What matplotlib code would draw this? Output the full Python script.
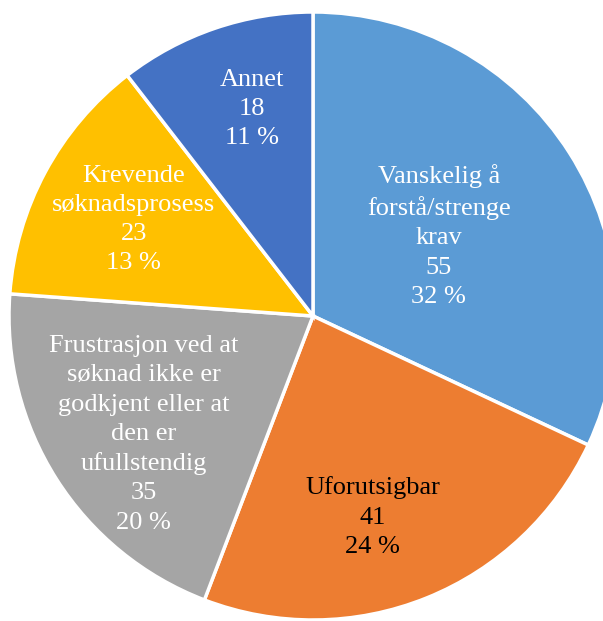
import numpy as np
import matplotlib.pyplot as plt

categories = ['Vanskelig å\nforstå/strenge\nkrav', 'Uforutsigbar',
              'Frustrasjon ved at\nsøknad ikke er\ngodkjent eller at\nden er\nufullstendig',
              'Krevende\nsøknadsprosess', 'Annet']
counts = [55, 41, 35, 23, 18]
percents = [32, 24, 20, 13, 11]
colors = ['#5B9BD5', '#ED7D31', '#A5A5A5', '#FFC000', '#4472C4']
text_colors = ['white', 'black', 'white', 'white', 'white']

# label placement (radius fraction, angle tweak in degrees)
label_r = [0.49, 0.69, 0.68, 0.67, 0.71]
label_da = [0, -5.5, 2.5, 0, -2.5]

plt.rcParams['font.family'] = ['Liberation Serif', 'DejaVu Serif']

fig = plt.figure(figsize=(6.03, 6.21), dpi=100)
ax = fig.add_axes([0, 0, 1, 1])

wedges, _ = ax.pie(counts, colors=colors, startangle=90, counterclock=False,
                   radius=1.0, wedgeprops=dict(edgecolor='white', linewidth=2.5))

for i, w in enumerate(wedges):
    mid = np.deg2rad((w.theta1 + w.theta2) / 2 + label_da[i])
    x = label_r[i] * np.cos(mid)
    y = label_r[i] * np.sin(mid)
    txt = f'{categories[i]}\n{counts[i]}\n{percents[i]} %'
    ax.text(x, y, txt, ha='center', va='center', fontsize=19,
            color=text_colors[i], linespacing=1.42)

cx, cy, r = 313, 316, 304
W, H = 603, 621
ax.set_xlim(-cx / r, (W - cx) / r)
ax.set_ylim(-(H - cy) / r, cy / r)
ax.set_aspect('auto')
ax.axis('off')

fig.savefig('out.png', dpi=100)
